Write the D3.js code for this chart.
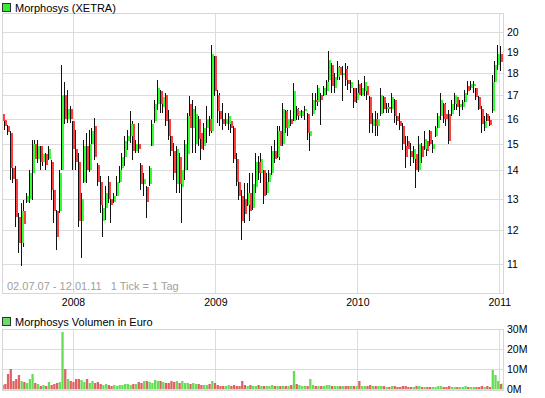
<!DOCTYPE html>
<html>
<head>
<meta charset="utf-8">
<script src="https://cdn.jsdelivr.net/npm/d3@7"></script>
<style>
body { margin: 0; background: #fff; }
svg { display: block; font-family: "Liberation Sans", Arial, sans-serif; }
.grid line { stroke: #dcdcdc; shape-rendering: crispEdges; }
.grid path, .lbl path { display: none; }
.lbl text { font-size: 10.5px; fill: #000; }
.frame { fill: none; stroke: #d6d6d6; shape-rendering: crispEdges; }
</style>
</head>
<body>
<svg id="chart" width="545" height="398"></svg>
<script>
// weekly candles, first week starts 02.07.07
var firstWeek = "2007-07-02";
var rangeStart = "2007-07-02";
var rangeEnd = "2011-01-13";

var weekOpen = [
 16.2,15.95,15.7,15.4,14.1,13.7,12.4,11.6,12.6,12.9,
 13.0,13.9,15.0,14.4,14.9,14.3,14.6,14.4,14.3,13.3,
 12.6,12.6,14.0,17.0,16.0,16.4,15.9,14.8,14.3,12.3,
 13.6,14.9,14.0,15.0,15.7,14.2,13.6,12.3,12.7,13.6,
 13.0,12.9,13.1,13.6,14.1,14.5,15.1,15.3,15.8,14.7,
 15.0,14.2,13.5,13.4,13.5,14.9,15.9,16.6,17.2,16.5,
 17.0,16.0,15.3,14.7,13.5,14.5,13.4,14.0,14.6,16.6,
 15.6,15.0,16.0,15.4,14.9,15.6,16.0,15.5,18.8,17.0,
 16.3,16.0,15.8,15.8,15.9,15.6,14.4,13.6,13.1,13.0,
 12.8,13.2,12.7,13.4,14.3,13.9,14.0,13.2,13.6,13.9,
 14.7,14.5,15.5,15.0,16.3,15.6,16.0,15.9,16.4,16.1,
 16.1,16.3,16.2,15.3,16.2,16.8,16.7,17.0,17.0,17.2,
 17.7,18.4,17.3,17.8,18.3,17.9,18.2,17.7,17.3,17.3,
 16.8,17.5,17.0,17.2,17.4,16.9,15.7,16.0,15.7,16.2,
 16.9,16.4,16.5,16.4,16.8,16.1,15.9,15.7,14.9,15.1,
 14.7,14.4,14.6,14.0,14.9,14.8,15.1,15.5,14.8,15.3,
 15.6,16.1,16.6,16.2,16.2,16.2,16.6,16.9,16.5,16.5,
 16.7,17.4,17.3,17.4,17.3,16.9,16.4,15.6,16.2,15.95,
 16.3,17.6,18.4,18.9,18.3
];
var weekHigh = [
 16.24,16.1,15.75,15.5,14.4,14.15,12.55,12.87,12.98,13.2,
 14.02,15.16,15.16,15.16,14.9,14.77,14.64,14.9,14.39,14.02,
 12.65,14.02,18.4,17.6,17.25,16.52,15.9,15.55,14.64,13.2,
 15.16,15.42,15.55,15.6,16.03,14.27,13.79,12.87,13.43,13.79,
 13.2,13.2,13.79,14.15,14.64,15.29,15.55,16.31,15.9,15.16,
 15.82,14.27,13.9,13.43,14.15,15.96,16.81,17.7,17.25,17.1,
 17.1,16.38,15.69,15.03,14.9,14.64,14.39,15.16,16.24,16.95,
 16.81,16.52,16.1,15.69,15.82,16.52,16.1,19.36,18.8,17.25,
 17.1,16.66,16.24,16.24,15.96,15.69,14.64,14.15,13.32,13.55,
 13.55,13.9,13.9,14.64,14.52,14.64,14.02,13.9,14.02,14.9,
 15.16,15.69,15.69,16.66,16.38,16.38,16.38,17.54,16.52,16.45,
 16.38,16.52,16.24,15.55,17.1,17.1,17.46,17.1,17.39,17.7,
 19.04,18.48,18.0,18.55,18.32,18.32,18.48,18.32,17.7,17.32,
 17.32,17.7,17.54,17.85,17.45,16.95,16.24,16.31,16.24,17.32,
 16.95,16.66,16.66,17.1,16.85,16.38,16.24,15.82,15.29,15.29,
 15.03,14.9,14.77,15.29,15.03,15.48,15.16,15.55,15.16,15.69,
 16.24,17.1,16.66,16.66,16.38,16.81,17.1,16.95,16.81,16.81,
 17.25,17.62,17.62,17.62,17.32,16.95,16.52,16.1,16.24,16.1,
 17.92,18.55,19.36,19.29,18.63
];
var weekLow = [
 15.62,15.55,15.35,13.67,13.55,12.1,11.3,10.93,11.5,12.87,
 12.87,12.98,14.02,14.27,14.02,14.15,14.02,14.39,12.98,12.22,
 11.41,12.54,14.0,15.8,15.82,15.82,14.02,14.02,12.11,11.16,
 13.55,13.55,13.95,14.39,14.39,13.43,12.54,11.8,12.32,12.87,
 12.22,12.87,13.09,13.55,14.02,14.15,14.77,15.03,14.39,14.64,
 14.64,13.32,13.09,12.37,13.43,14.9,15.82,16.38,16.24,16.24,
 15.69,15.16,14.52,13.67,13.2,13.2,12.22,13.67,14.02,15.42,
 14.64,14.64,14.9,14.39,14.77,15.03,15.29,15.42,16.95,15.82,
 15.69,15.55,15.69,15.55,15.42,14.27,13.43,12.98,11.7,12.22,
 12.76,12.27,12.65,13.2,13.67,13.55,12.82,13.15,13.55,13.85,
 14.27,14.45,14.39,14.9,15.42,15.29,15.69,15.9,15.96,15.96,
 16.03,15.96,15.16,14.7,16.1,16.38,16.52,15.75,16.95,17.02,
 17.6,17.1,17.1,17.7,17.7,16.74,17.39,17.25,17.1,16.45,
 16.66,16.88,16.95,16.95,16.81,15.42,15.42,15.29,15.29,16.1,
 16.24,16.24,16.24,16.24,15.82,15.75,15.55,14.77,14.08,14.64,
 14.15,14.27,13.38,13.95,14.27,14.77,14.52,14.9,14.64,15.25,
 15.55,15.96,15.82,15.69,14.97,16.1,16.38,16.38,16.1,16.38,
 16.6,17.02,17.25,17.1,16.81,16.38,15.42,15.48,15.82,15.69,
 16.24,17.25,18.16,18.08,18.0
];
var weekClose = [
 15.9,15.7,15.45,14.1,13.7,12.4,11.6,12.6,12.2,13.1,
 13.9,15.0,14.4,14.9,14.3,14.6,14.2,14.8,13.3,12.6,
 11.8,13.9,17.0,16.0,16.4,16.0,14.8,14.3,12.3,13.0,
 14.9,14.0,15.0,15.5,14.5,13.6,12.8,12.7,13.2,13.0,
 12.8,13.1,13.6,14.0,14.5,15.1,15.3,15.8,14.7,15.0,
 14.8,13.5,13.7,12.9,14.1,15.8,16.6,17.3,16.6,16.9,
 15.9,15.3,14.7,13.9,14.8,13.5,14.0,15.0,16.1,15.6,
 16.4,16.2,15.2,14.8,15.6,16.0,15.5,18.9,17.2,16.3,
 16.0,15.8,16.0,16.1,15.6,14.4,13.6,13.1,12.3,12.5,
 13.2,12.6,13.5,14.3,13.9,14.4,13.1,13.6,13.9,14.7,
 14.4,15.5,14.9,16.4,15.6,16.0,15.8,17.2,16.1,16.3,
 16.3,16.4,15.4,15.5,16.8,16.7,17.3,16.8,17.3,17.6,
 18.6,17.4,17.8,18.3,17.9,18.0,17.7,17.5,17.6,16.7,
 17.1,17.0,17.3,17.6,17.0,15.8,16.0,15.7,16.0,17.0,
 16.4,16.5,16.4,16.9,16.1,15.9,15.7,15.0,14.5,14.8,
 14.5,14.8,14.0,15.0,14.5,15.2,14.7,15.0,15.0,15.6,
 16.1,16.8,16.0,16.0,15.1,16.6,17.0,16.5,16.6,16.7,
 17.1,17.2,17.5,17.5,16.9,16.4,15.8,15.9,15.9,15.75,
 17.6,18.4,18.9,18.5,18.55
];
// volume in Mio. Euro
var weekVolume = [
 2,2.5,7.5,10,4,5,7,4,3.5,3,
 5,7.5,3,2.5,1.5,2,1.5,3.5,2,2.5,
 3,3.5,28.5,10,5,4,3.5,5,5,4.5,
 3.5,5,3,4,3,3.5,2.5,2,2.5,2,
 1.5,2,1.5,2,2,2.5,2.5,2,2.5,2.5,
 3.5,3,4,4,3.5,3,4.5,4,4,3.5,
 3,3,4,3.5,4,3,4,3,3,2.5,
 3,2.5,2.5,2,2,2,2.5,4,3,2,
 1.5,1.5,1.5,2,1.5,2,1.5,1.5,4,2,
 1.5,2,1.5,1.5,2,1.5,1.5,1.5,1.5,2,
 1.5,1.5,1.5,1.5,1.5,1.5,2,9,2.5,2,
 1.5,1.5,1.5,5,2,1.5,1.5,1.5,1.5,2,
 2,1.5,1.5,1.5,1.5,1.5,1.5,1.5,1.5,1.5,
 1.5,4,1.5,1.5,1.5,2,1.5,1.5,1.5,1.5,
 1.5,1,1,1.5,1.5,1,1,1.5,1.5,1,
 1,1,1.5,1.5,1,1,1,1,1,1,
 1.5,1.5,1,1,1.5,1,1,1,1,1,
 1.5,1,1,1,1,1,1.5,1,1.5,1,
 9.5,7,4,2.5,3
];
var priceTicks = [11,12,13,14,15,16,17,18,19,20];
var volumeTicks = [0,10,20,30];
var yearLabels = ["2008","2009","2010","2011"];

var upColor = "#33ff33", downColor = "#ff3f3f";
var volUp = "#66dd55", volDown = "#e06262";

var parseDate = d3.timeParse("%Y-%m-%d");
var svg = d3.select("#chart");

var candles = weekClose.map(function(c, i){
   return {
      date: d3.timeDay.offset(parseDate(firstWeek), 7 * i + 2),
      open: weekOpen[i], high: weekHigh[i], low: weekLow[i], close: c,
      vol: weekVolume[i]
   };
});
var yearDates = yearLabels.map(function(y){ return parseDate(y + "-01-01"); });

var x = d3.scaleTime().domain([parseDate(rangeStart), parseDate(rangeEnd)]).range([1.8, 504]);
var y = d3.scaleLog().domain([10.2, 21.02]).range([293, 13]);
var yVol = d3.scaleLinear().domain([0, 30]).range([389, 329]);

//clip paths
var defs = svg.append("defs");
defs.append("clipPath").attr("id", "clipP").append("rect")
   .attr("x", 3).attr("y", 14).attr("width", 500).attr("height", 279);
defs.append("clipPath").attr("id", "clipV").append("rect")
   .attr("x", 3).attr("y", 330).attr("width", 500).attr("height", 60);

//price gridlines
svg.append("g").attr("class", "grid").attr("transform", "translate(2,0)")
   .call(d3.axisRight(y).tickValues(priceTicks).tickSize(501).tickFormat(""));
svg.append("g").attr("class", "grid").attr("transform", "translate(0,293)")
   .call(d3.axisBottom(x).tickValues(yearDates).tickSize(-280).tickFormat(""));
svg.append("rect").attr("class", "frame").attr("x", 2.5).attr("y", 13.5).attr("width", 501).attr("height", 280);

//volume gridlines
svg.append("g").attr("class", "grid").attr("transform", "translate(2,0)")
   .call(d3.axisRight(yVol).tickValues(volumeTicks).tickSize(501).tickFormat(""));
svg.append("g").attr("class", "grid").attr("transform", "translate(0,390)")
   .call(d3.axisBottom(x).tickValues(yearDates).tickSize(-61).tickFormat(""));
svg.append("rect").attr("class", "frame").attr("x", 2.5).attr("y", 329.5).attr("width", 501).attr("height", 61);

//period note
svg.append("text").attr("x", 7).attr("y", 290)
   .style("white-space", "pre").attr("font-size", "11px").attr("fill", "#a0a0a0")
   .text("02.07.07 - 12.01.11   1 Tick = 1 Tag");

//candles
var cg = svg.append("g").attr("clip-path", "url(#clipP)").attr("shape-rendering", "crispEdges");
cg.selectAll("rect.wick").data(candles).enter().append("rect")
   .attr("class", "wick")
   .attr("x", function(d){ return Math.round(x(d.date)) - 1; })
   .attr("y", function(d){ return y(d.high); })
   .attr("width", 1)
   .attr("height", function(d){ return Math.max(1, y(d.low) - y(d.high)); })
   .attr("fill", "#111");
cg.selectAll("rect.body").data(candles).enter().append("rect")
   .attr("class", "body")
   .attr("x", function(d){ return Math.round(x(d.date)); })
   .attr("y", function(d){ return y(Math.max(d.open, d.close)); })
   .attr("width", 2)
   .attr("height", function(d){ return Math.max(2, Math.abs(y(d.open) - y(d.close))); })
   .attr("fill", function(d){ return d.close >= d.open ? upColor : downColor; });

//volume bars
svg.append("g").attr("clip-path", "url(#clipV)")
   .selectAll("rect").data(candles).enter().append("rect")
   .attr("x", function(d){ return x(d.date) - 1.1; })
   .attr("y", function(d){ return yVol(d.vol); })
   .attr("width", 2.3)
   .attr("height", function(d){ return yVol(0) - yVol(d.vol); })
   .attr("fill", function(d){ return d.close >= d.open ? volUp : volDown; });

//axis labels
svg.append("g").attr("class", "lbl").attr("transform", "translate(507,0)")
   .call(d3.axisRight(y).tickValues(priceTicks).tickSize(0).tickPadding(0).tickFormat(d3.format("d")));
svg.append("g").attr("class", "lbl").attr("transform", "translate(0,293)")
   .call(d3.axisBottom(x).tickValues(yearDates).tickSize(0).tickPadding(6).tickFormat(d3.timeFormat("%Y")));
svg.append("g").attr("class", "lbl").attr("transform", "translate(507,0)")
   .call(d3.axisRight(yVol).tickValues(volumeTicks).tickSize(0).tickPadding(0).tickFormat(function(d){ return d + "M"; }));

//legends
svg.append("rect").attr("x", 2.5).attr("y", 3.5).attr("width", 8).attr("height", 8)
   .attr("fill", "#33ee33").attr("stroke", "#333");
svg.append("text").attr("x", 15).attr("y", 11.5).attr("font-size", "11px").text("Morphosys (XETRA)");
svg.append("rect").attr("x", 2.5).attr("y", 317.5).attr("width", 8).attr("height", 8)
   .attr("fill", "#66dd66").attr("stroke", "#333");
svg.append("text").attr("x", 15).attr("y", 325.5).attr("font-size", "11px").text("Morphosys Volumen in Euro");
</script>
</body>
</html>
